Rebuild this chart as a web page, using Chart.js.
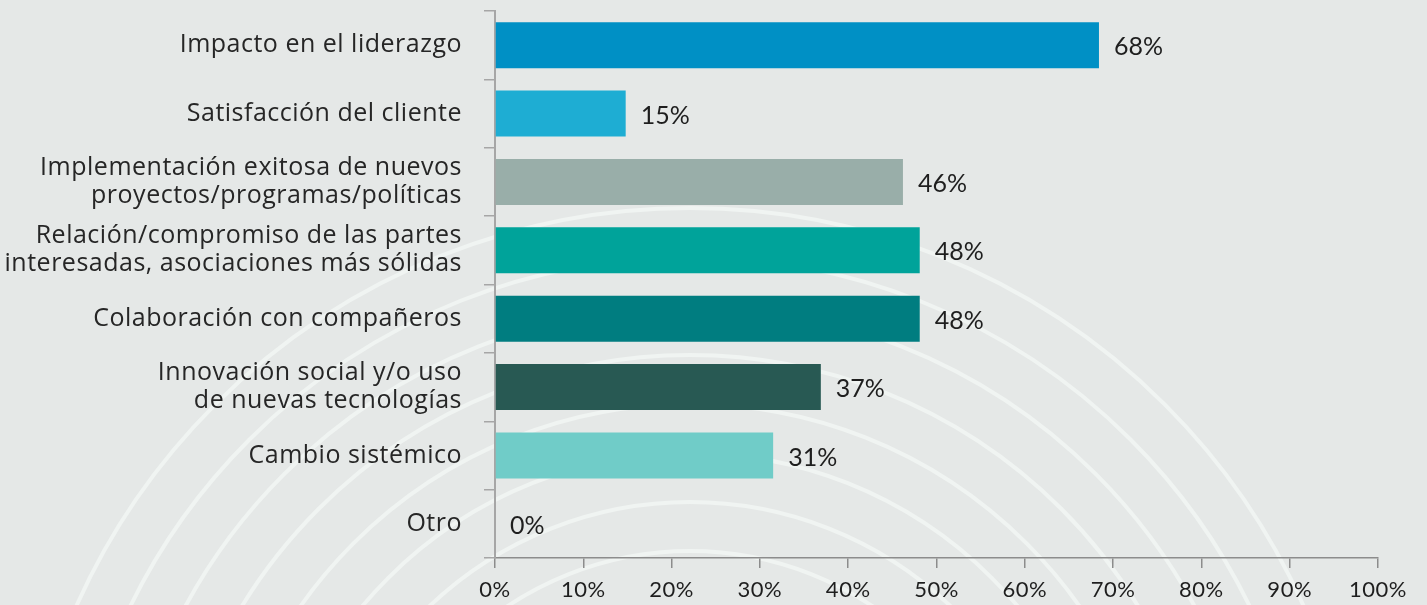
<!DOCTYPE html>
<html>
<head>
<meta charset="utf-8">
<script src="https://cdn.jsdelivr.net/npm/chart.js@4.4.1/dist/chart.umd.min.js"></script>
<style>
  html, body { margin: 0; padding: 0; background: #e5e8e7; }
  #wrap { position: relative; width: 1427px; height: 605px; }
</style>
</head>
<body>
<div id="wrap"><canvas id="chart"></canvas></div>
<script>
// Data
const categories = [
  "Impacto en el liderazgo",
  "Satisfacción del cliente",
  ["Implementación exitosa de nuevos", "proyectos/programas/políticas"],
  ["Relación/compromiso de las partes", "interesadas, asociaciones más sólidas"],
  "Colaboración con compañeros",
  ["Innovación social y/o uso", "de nuevas tecnologías"],
  "Cambio sistémico",
  "Otro"
];
const values = [68.4, 14.8, 46.2, 48.1, 48.1, 36.9, 31.5, 0];
const valueLabels = ["68%", "15%", "46%", "48%", "48%", "37%", "31%", "0%"];
const xTicks = [0, 10, 20, 30, 40, 50, 60, 70, 80, 90, 100];

// Style
const barColors = ["#0090c5", "#1eadd3", "#99aea9", "#00a39a", "#007d80", "#285953", "#70ccc8", "#70ccc8"];
const bgColor = "#e5e8e7";
const textColor = "#1e1e1e";

// background ripples (decoration only)
const ripplePlugin = {
  id: "ripples",
  beforeDraw(chart) {
    const ctx = chart.ctx;
    const radii = [672, 623, 574, 525, 476, 427, 378, 329];
    ctx.save();
    ctx.fillStyle = bgColor;
    ctx.fillRect(0, 0, chart.width, chart.height);
    ctx.strokeStyle = "#f0f4f2";
    ctx.lineWidth = 4;
    radii.forEach(r => {
      ctx.beginPath();
      ctx.arc(690, 880, r, 0, Math.PI * 2);
      ctx.stroke();
    });
    ctx.restore();
    // the original font is wider, widen the axis labels a little
    ctx.letterSpacing = "0.5px";
  }
};

// value labels right of each bar
const valueLabelPlugin = {
  id: "valueLabels",
  afterDatasetsDraw(chart) {
    const ctx = chart.ctx;
    const meta = chart.getDatasetMeta(0);
    ctx.save();
    ctx.letterSpacing = "0px";
    ctx.font = "400 25px Lato";
    ctx.fillStyle = textColor;
    ctx.textAlign = "left";
    ctx.textBaseline = "middle";
    meta.data.forEach((bar, i) => {
      ctx.fillText(valueLabels[i], bar.x + 15, bar.y + 2);
    });
    ctx.restore();
  }
};

const chart = new Chart(document.getElementById("chart"), {
  type: "bar",
  data: {
    labels: categories,
    datasets: [{
      data: values,
      backgroundColor: barColors,
      barPercentage: 0.673,
      categoryPercentage: 1
    }]
  },
  options: {
    indexAxis: "y",
    responsive: true,
    maintainAspectRatio: false,
    animation: false,
    layout: { padding: { top: 11, right: 49, bottom: 0, left: 0 } },
    plugins: {
      legend: { display: false },
      tooltip: { enabled: false }
    },
    scales: {
      x: {
        min: 0,
        max: 100,
        afterBuildTicks: s => { s.ticks = xTicks.map(v => ({ value: v })); },
        ticks: {
          callback: v => v + "%",
          color: textColor,
          font: { family: "Lato", size: 22, weight: 400 },
          padding: 9,
          maxRotation: 0
        },
        grid: { drawOnChartArea: false, tickLength: 10, color: "#8c8c8c", lineWidth: 1.5 },
        border: { display: true, color: "#8c8c8c", width: 1.5 },
        afterFit: s => { s.height = 47; s.paddingLeft = 0; s.paddingRight = 0; }
      },
      y: {
        ticks: {
          color: "#262626",
          font: { family: "Open Sans", size: 25, weight: 400, lineHeight: 1.12 },
          padding: 22
        },
        grid: { drawOnChartArea: false, tickLength: 11, color: "#a6a6a6", lineWidth: 1.5, offset: true },
        border: { display: true, color: "#a6a6a6", width: 2 },
        afterFit: s => { s.width = 495; s.paddingTop = 0; s.paddingBottom = 0; }
      }
    }
  },
  plugins: [ripplePlugin, valueLabelPlugin]
});
</script>
</body>
</html>
